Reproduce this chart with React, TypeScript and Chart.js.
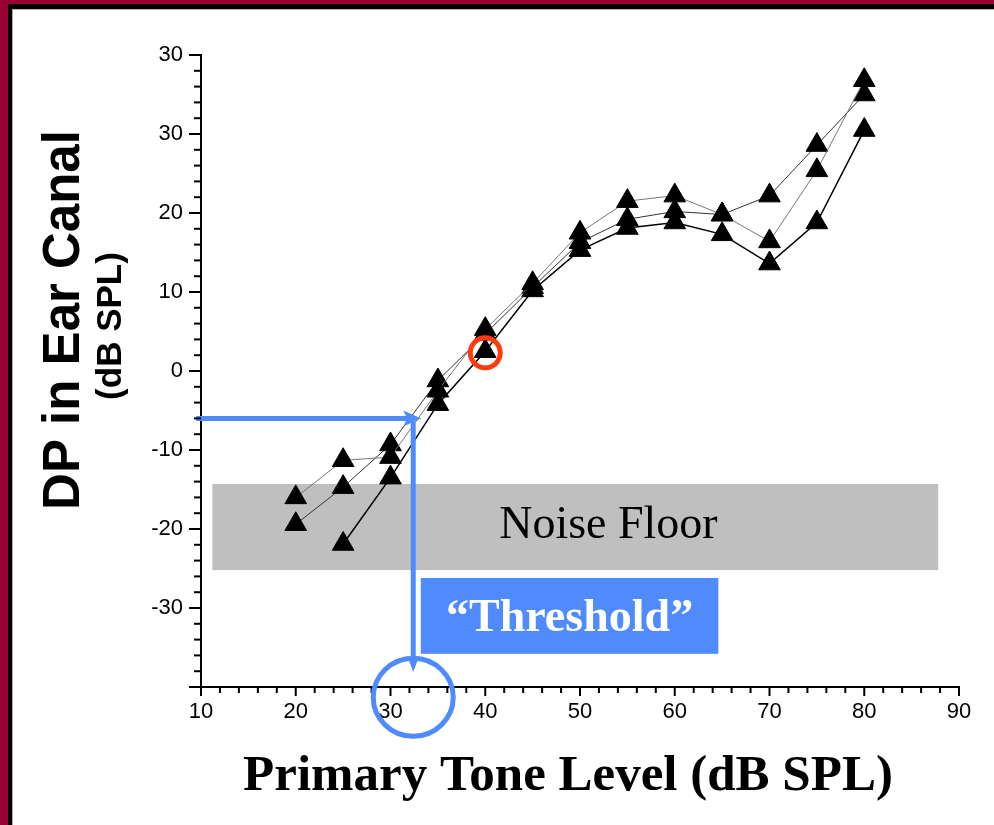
import React, { useEffect, useRef } from 'react';
import { Chart, registerables } from 'chart.js';

Chart.register(...registerables);

// ---- data ----
const levels = [20, 25, 30, 35, 40, 45, 50, 55, 60, 65, 70, 75, 80];
const seriesA: (number | null)[] = [-16.0, -11.3, -10.9, -2.5, 5.3, 11.1, 17.5, 21.5, 22.2, 19.8, 16.4, 25.4, 36.8];
const seriesB: (number | null)[] = [-19.4, -14.7, -9.3, -1.2, 4.7, 10.6, 16.3, 19.2, 20.2, 19.8, 22.2, 28.6, 35.0];
const seriesC: (number | null)[] = [null, -21.9, -13.5, -4.2, 2.5, 10.2, 15.3, 18.1, 18.8, 17.3, 13.6, 18.8, 30.5];

// tick label as printed in the reference (top tick prints "30")
const yTickText: Record<string, string> = { '40': '30', '-40': '' };

const xTitle = 'Primary Tone Level (dB SPL)';
const yTitle = 'DP in Ear Canal';
const ySubTitle = '(dB SPL)';
const noiseText = 'Noise Floor';
const thresholdText = '\u201CThreshold\u201D';

// annotation positions in data units
const noiseX = [11.2, 87.8];
const noiseY = [-14.3, -25.2];
const noiseTextAt = [53.0, -19.8];
const thresholdLevel = 32.4;
const thresholdDP = -6.0;
const arrowStartX = 9.5;
const arrowEndY = -38.1;
const thresholdBoxX = [33.2, 64.6];
const thresholdBoxY = [-26.2, -35.8];
const markedPoint = [40, 2.3];
const thresholdCircle = [32.4, -41.3];

const BLUE = '#4f8bff';

const toPts = (arr: (number | null)[]) =>
  levels.map((x, i) => ({ x, y: arr[i] })).filter((p) => p.y !== null);

const overlayPlugin = {
  id: 'overlay',
  beforeDraw(chart: any) {
    const { ctx, width, height } = chart;
    ctx.save();
    ctx.fillStyle = '#ffffff';
    ctx.fillRect(0, 0, width, height);
    ctx.fillStyle = '#990033';
    ctx.fillRect(0, 0, width, 4);
    ctx.fillRect(0, 0, 8, height);
    ctx.fillStyle = '#000000';
    ctx.fillRect(8, 4, width - 8, 5);
    ctx.fillRect(8, 4, 4, height - 4);
    ctx.fillStyle = '#b0b0b0';
    ctx.fillRect(12, 9, width - 12, 1);
    ctx.fillRect(12, 9, 1, height - 9);
    ctx.restore();
  },
  beforeDatasetsDraw(chart: any) {
    const { ctx } = chart;
    const xs = chart.scales.x;
    const ys = chart.scales.y;
    ctx.save();
    const l = xs.getPixelForValue(noiseX[0]);
    const r = xs.getPixelForValue(noiseX[1]);
    const t = ys.getPixelForValue(noiseY[0]);
    const b = ys.getPixelForValue(noiseY[1]);
    ctx.fillStyle = '#bfbfbf';
    ctx.fillRect(l, t, r - l, b - t);
    ctx.fillStyle = '#000';
    ctx.font = '46px "Liberation Serif", "Times New Roman", serif';
    ctx.textAlign = 'center';
    ctx.textBaseline = 'alphabetic';
    ctx.fillText(noiseText, xs.getPixelForValue(noiseTextAt[0]), ys.getPixelForValue(noiseTextAt[1]) + 11);
    ctx.restore();
  },
  afterDatasetsDraw(chart: any) {
    const { ctx } = chart;
    const xs = chart.scales.x;
    const ys = chart.scales.y;
    ctx.save();
    // threshold arrows
    const cx = xs.getPixelForValue(thresholdLevel);
    const cy = ys.getPixelForValue(thresholdDP);
    const sx = xs.getPixelForValue(arrowStartX);
    const ey = ys.getPixelForValue(arrowEndY);
    ctx.strokeStyle = BLUE;
    ctx.fillStyle = BLUE;
    ctx.lineWidth = 5;
    ctx.lineCap = 'butt';
    ctx.beginPath();
    ctx.moveTo(sx, cy);
    ctx.lineTo(cx - 6, cy);
    ctx.stroke();
    ctx.beginPath();
    ctx.moveTo(cx - 10, cy - 8);
    ctx.lineTo(cx + 8, cy);
    ctx.lineTo(cx - 10, cy + 8);
    ctx.lineTo(cx - 6, cy);
    ctx.closePath();
    ctx.fill();
    ctx.beginPath();
    ctx.moveTo(cx, cy + 3);
    ctx.lineTo(cx, ey - 10);
    ctx.stroke();
    ctx.beginPath();
    ctx.moveTo(cx - 6, ey - 16);
    ctx.lineTo(cx, ey);
    ctx.lineTo(cx + 6, ey - 16);
    ctx.lineTo(cx, ey - 12);
    ctx.closePath();
    ctx.fill();
    // threshold box
    const bl = xs.getPixelForValue(thresholdBoxX[0]);
    const br = xs.getPixelForValue(thresholdBoxX[1]);
    const bt = ys.getPixelForValue(thresholdBoxY[0]);
    const bb = ys.getPixelForValue(thresholdBoxY[1]);
    ctx.fillRect(bl, bt, br - bl, bb - bt);
    ctx.fillStyle = '#ffffff';
    ctx.font = 'bold 46px "Liberation Serif", "Times New Roman", serif';
    ctx.textAlign = 'center';
    ctx.textBaseline = 'alphabetic';
    ctx.fillText(thresholdText, (bl + br) / 2, (bt + bb) / 2 + 15);
    // red circle
    ctx.strokeStyle = '#ff3b0f';
    ctx.lineWidth = 5;
    ctx.beginPath();
    ctx.arc(xs.getPixelForValue(markedPoint[0]), ys.getPixelForValue(markedPoint[1]), 15, 0, Math.PI * 2);
    ctx.stroke();
    ctx.restore();
  },
  afterDraw(chart: any) {
    const { ctx, chartArea } = chart;
    const xs = chart.scales.x;
    const ys = chart.scales.y;
    ctx.save();
    ctx.strokeStyle = '#000';
    ctx.lineWidth = 2;
    // y ticks
    ys.ticks.forEach((t: any) => {
      const py = ys.getPixelForValue(t.value);
      const major = Math.round(t.value) % 10 === 0;
      const len = major ? 12 : 7;
      ctx.beginPath();
      ctx.moveTo(chartArea.left - len, py);
      ctx.lineTo(chartArea.left, py);
      ctx.stroke();
    });
    xs.ticks.forEach((t: any) => {
      const px = xs.getPixelForValue(t.value);
      const major = Math.round(t.value) % 10 === 0;
      const len = major ? 9 : 6;
      ctx.beginPath();
      ctx.moveTo(px, chartArea.bottom);
      ctx.lineTo(px, chartArea.bottom + len);
      ctx.stroke();
    });
    // titles
    ctx.fillStyle = '#000';
    ctx.textAlign = 'center';
    ctx.textBaseline = 'alphabetic';
    ctx.font = 'bold 51px "Liberation Serif", "Times New Roman", serif';
    ctx.fillText(xTitle, 568, 790);
    ctx.save();
    ctx.translate(79, 320);
    ctx.rotate(-Math.PI / 2);
    ctx.font = 'bold 51px "Liberation Sans", Arial, sans-serif';
    ctx.fillText(yTitle, 0, 0);
    ctx.restore();
    ctx.save();
    ctx.translate(121, 326);
    ctx.rotate(-Math.PI / 2);
    ctx.font = 'bold 35px "Liberation Sans", Arial, sans-serif';
    ctx.fillText(ySubTitle, 0, 0);
    ctx.restore();
    // threshold circle on axis
    ctx.strokeStyle = BLUE;
    ctx.lineWidth = 5;
    ctx.beginPath();
    ctx.ellipse(
      xs.getPixelForValue(thresholdCircle[0]),
      ys.getPixelForValue(thresholdCircle[1]),
      40, 39, 0, 0, Math.PI * 2
    );
    ctx.stroke();
    ctx.restore();
  },
};

export default function App() {
  const ref = useRef<HTMLCanvasElement | null>(null);

  useEffect(() => {
    if (!ref.current) return;
    const pointOpts = {
      pointStyle: 'triangle',
      pointRadius: 12.5,
      pointBackgroundColor: '#000',
      pointBorderColor: '#000',
      pointBorderWidth: 1,
      fill: false,
      tension: 0,
    };
    const chart = new Chart(ref.current, {
      type: 'line',
      data: {
        datasets: [
          { ...pointOpts, label: 'A', data: toPts(seriesA), borderColor: '#777', borderWidth: 1 },
          { ...pointOpts, label: 'B', data: toPts(seriesB), borderColor: '#333', borderWidth: 1 },
          { ...pointOpts, label: 'C', data: toPts(seriesC), borderColor: '#000', borderWidth: 1.5 },
        ] as any,
      },
      options: {
        animation: false,
        responsive: false,
        layout: { padding: { top: 55, right: 35, left: 0, bottom: 0 } },
        plugins: { legend: { display: false }, tooltip: { enabled: false }, title: { display: false } },
        scales: {
          x: {
            type: 'linear',
            min: 10,
            max: 90,
            afterFit: (s: any) => { s.height = 138; },
            grid: { display: false, drawTicks: true, tickLength: 9 },
            border: { display: true, color: '#000', width: 2 },
            ticks: {
              stepSize: 2,
              autoSkip: false,
              maxRotation: 0,
              padding: 3,
              color: '#000',
              font: { family: '"Liberation Sans", Arial, sans-serif', size: 22 },
              callback: (v: any) => (Math.round(v) % 10 === 0 ? String(Math.round(v)) : ''),
            },
          },
          y: {
            type: 'linear',
            min: -40,
            max: 40,
            afterFit: (s: any) => { s.width = 201; },
            grid: { display: false, drawTicks: true, tickLength: 12 },
            border: { display: true, color: '#000', width: 2 },
            ticks: {
              stepSize: 2,
              autoSkip: false,
              padding: 6,
              color: '#000',
              font: { family: '"Liberation Sans", Arial, sans-serif', size: 22 },
              callback: (v: any) => {
                const k = String(Math.round(v));
                if (k in yTickText) return yTickText[k];
                return Math.round(v) % 10 === 0 ? k : '';
              },
            },
          },
        },
      } as any,
      plugins: [overlayPlugin],
    });
    return () => chart.destroy();
  }, []);

  return (
    <div style={{ position: 'fixed', left: 0, top: 0, width: 994, height: 825, background: '#fff' }}>
      <canvas ref={ref} width={994} height={825} style={{ display: 'block', width: 994, height: 825 }} />
    </div>
  );
}
